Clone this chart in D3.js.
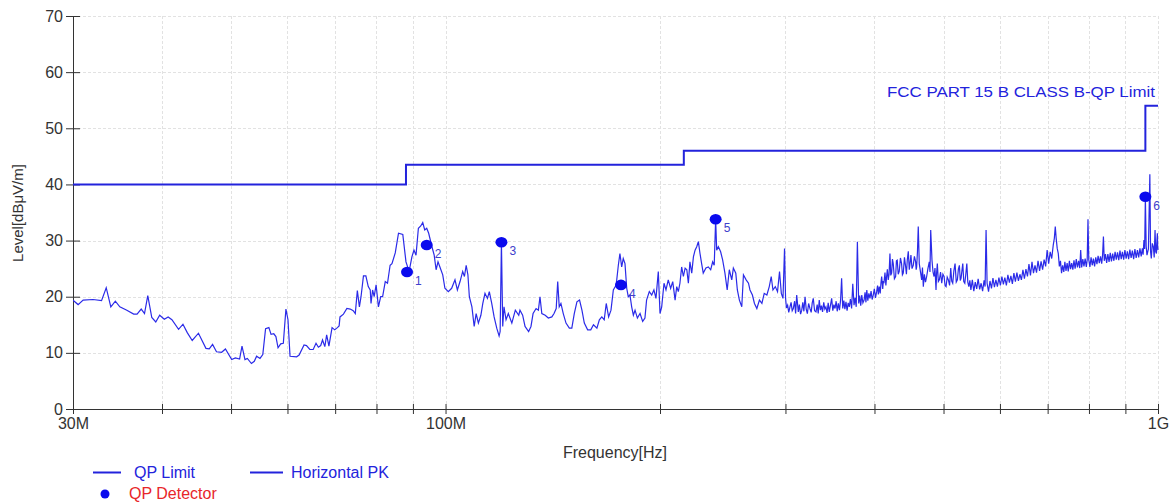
<!DOCTYPE html>
<html><head><meta charset="utf-8">
<script src="https://cdn.jsdelivr.net/npm/d3@7"></script>
<style>
html,body{margin:0;padding:0;background:#fff;}
svg{display:block;font-family:"Liberation Sans",Arial,sans-serif;}
</style></head>
<body><svg id="c" width="1176" height="504"></svg>
<script>
// ---------- data ----------
const yTicks = [0,10,20,30,40,50,60,70];
const xTicks = [30,40,50,60,70,80,90,100,200,300,400,500,600,700,800,900,1000];
const xTickLabels = {30:"30M",100:"100M",1000:"1G"};

// QP limit: [start MHz, end MHz, level dBµV/m]
const limitSteps = [[30,88,40],[88,216,43.5],[216,960,46],[960,1000,54]];
const limitLabel = "FCC PART 15 B CLASS B-QP Limit";

// QP detector points
const qpFreq  = [88.3, 94.1, 119.8, 176.3, 239.4, 960.0];
const qpLevel = [24.4, 29.2, 29.7, 22.1, 33.8, 37.8];
const qpLabel = ["1","2","3","4","5","6"];

// Horizontal PK trace: [MHz, dBµV/m]
const pkTrace = [
[30.0,19.4],[30.5,18.6],[31.0,19.4],[32.0,19.5],[32.9,19.3],[33.4,21.6],[33.9,18.2],[34.4,19.2],[34.9,18.2],[35.7,17.6],
[36.5,16.9],[36.9,16.9],[37.4,17.8],[37.8,17.0],[38.2,20.2],[38.7,16.3],[39.2,15.5],[39.7,16.7],[40.3,16.0],[40.8,16.4],
[41.3,15.9],[42.2,14.2],[42.8,15.1],[43.4,13.6],[44.1,12.2],[45.0,13.5],[46.1,10.8],[46.6,10.7],[47.1,11.5],[47.7,10.2],
[48.5,10.1],[49.1,10.7],[50.1,8.8],[50.7,9.1],[51.4,8.9],[51.8,11.2],[52.3,8.8],[52.7,9.0],[53.4,8.1],[53.9,8.5],
[54.3,9.4],[54.9,9.0],[55.4,9.7],[55.9,14.3],[56.5,14.5],[56.9,13.3],[57.4,13.4],[57.8,12.9],[58.2,10.9],[58.7,11.6],
[59.2,11.7],[59.7,17.8],[60.1,15.9],[60.5,9.4],[61.8,9.3],[62.3,9.6],[63.3,11.4],[63.8,11.3],[64.5,10.6],[65.2,10.6],
[65.8,11.7],[66.3,11.0],[66.8,11.3],[67.2,12.3],[67.7,11.1],[68.1,13.2],[68.6,11.2],[69.3,14.5],[69.9,14.1],[70.5,14.5],
[70.9,14.8],[71.1,16.4],[71.9,16.9],[72.7,17.9],[73.5,17.8],[74.2,17.5],[74.7,17.0],[75.2,21.1],[75.7,18.2],[76.1,20.0],
[76.7,23.7],[77.3,23.7],[77.9,21.8],[78.4,21.2],[78.6,18.8],[79.0,21.2],[79.4,20.0],[79.9,22.1],[80.5,18.2],[81.1,20.0],
[81.6,20.0],[82.3,22.7],[82.9,22.4],[83.6,25.6],[84.1,25.9],[85.0,27.8],[85.9,31.3],[87.1,31.1],[88.0,26.2],[88.9,24.5],
[89.7,27.1],[90.3,28.3],[90.9,27.4],[91.6,32.2],[92.3,32.6],[92.9,33.2],[93.5,31.9],[94.1,32.2],[94.7,31.3],[95.7,28.9],
[96.4,27.4],[97.0,24.8],[97.6,26.2],[98.2,25.3],[99.1,23.9],[99.8,21.5],[100.9,20.9],[102.0,21.5],[103.1,23.0],[103.9,21.2],
[104.8,22.7],[105.7,24.5],[106.3,23.6],[106.9,25.6],[107.5,23.9],[108.0,20.0],[108.9,18.2],[109.7,14.7],[110.4,17.0],[111.2,15.3],
[112.1,16.7],[112.8,18.8],[113.6,20.6],[114.5,19.7],[115.2,20.9],[116.1,18.8],[117.0,16.4],[118.0,14.4],[118.9,13.0],[119.3,13.8],
[119.8,29.7],[120.3,14.7],[120.8,18.2],[121.6,15.9],[122.5,17.0],[123.9,15.3],[125.3,17.6],[126.7,16.7],[127.2,17.6],[128.3,16.7],
[129.3,14.7],[130.8,13.8],[131.8,14.7],[132.7,17.0],[134.0,17.9],[135.0,17.6],[135.7,20.0],[136.5,17.0],[138.0,16.7],[139.4,16.2],
[141.0,16.4],[142.0,17.0],[143.0,17.9],[143.7,22.7],[144.4,18.2],[145.2,18.8],[146.3,17.0],[147.6,15.3],[149.2,14.4],[150.4,14.4],
[151.6,17.0],[152.9,19.1],[154.2,19.4],[155.4,17.6],[156.6,15.3],[158.3,14.1],[159.9,14.1],[161.3,15.0],[163.1,14.4],[164.4,15.9],
[165.7,16.4],[167.0,15.9],[168.1,18.8],[169.4,16.4],[170.7,17.6],[172.0,21.2],[173.6,22.1],[174.8,25.6],[175.7,27.7],[176.7,25.3],
[177.6,26.8],[178.6,25.9],[179.6,21.5],[180.5,20.0],[181.5,20.3],[182.5,18.2],[183.5,16.7],[184.5,17.6],[185.9,16.2],[187.5,17.0],
[189.1,15.6],[190.5,16.2],[191.5,19.4],[193.2,20.9],[194.7,20.3],[196.1,21.2],[197.4,19.7],[198.9,24.5],[200.0,17.0],[201.1,18.2],
[202.6,22.4],[203.9,21.2],[205.4,23.0],[207.0,21.5],[208.4,22.7],[210.0,19.4],[211.1,21.8],[212.2,20.9],[213.3,22.4],[214.5,25.3],
[215.7,23.6],[216.9,25.1],[218.1,24.8],[219.2,22.4],[220.3,26.2],[221.6,24.2],[222.8,27.1],[224.0,28.3],[225.2,28.9],[226.4,29.8],
[227.6,27.7],[228.8,25.9],[230.0,24.2],[232.0,25.1],[233.8,25.3],[235.6,24.8],[237.1,26.2],[238.3,25.6],[239.4,33.8],[240.2,28.3],
[241.5,28.9],[243.3,28.0],[244.9,26.5],[246.7,24.2],[248.5,21.2],[250.2,24.8],[252.2,23.0],[253.5,25.1],[255.5,24.2],[256.8,21.2],
[258.5,19.4],[260.5,18.2],[261.9,23.9],[264.2,23.0],[266.2,22.4],[267.5,21.2],[269.6,20.3],[271.4,18.8],[273.5,17.9],[275.8,19.4],
[278.0,18.8],[280.1,20.6],[282.5,20.3],[284.7,21.8],[286.5,23.6],[288.1,21.2],[290.3,21.8],[292.4,20.9],[294.3,24.5],[296.0,20.6],
[297.6,19.7],[299.1,28.6],[300.1,19.7],[301.0,18.0],[302.1,18.5],[303.2,17.2],[304.4,18.2],[305.5,19.0],[306.6,17.5],[307.7,17.9],
[309.0,19.2],[310.0,17.0],[311.1,20.3],[312.7,17.3],[313.8,18.6],[315.0,16.9],[316.2,17.6],[317.3,19.0],[318.4,17.4],[319.6,20.0],
[320.8,17.8],[322.0,17.0],[323.3,18.8],[324.7,17.9],[326.0,17.2],[327.1,18.9],[328.2,19.7],[329.6,17.5],[331.1,17.3],[332.4,18.6],
[333.5,17.0],[334.6,19.4],[335.9,17.6],[337.0,18.4],[338.2,17.3],[339.5,19.0],[340.7,17.8],[341.9,18.2],[343.2,17.1],[344.4,18.9],
[345.6,17.3],[347.0,18.5],[348.3,19.7],[349.6,17.5],[350.8,18.6],[352.1,17.9],[353.4,19.2],[354.6,17.4],[355.9,18.8],[357.2,17.6],
[358.5,19.4],[359.7,23.3],[361.0,17.9],[362.3,19.3],[363.5,17.8],[364.8,19.1],[366.1,17.5],[367.4,18.9],[368.7,18.2],[370.1,19.6],
[371.5,17.9],[372.9,22.3],[374.4,18.5],[375.7,19.8],[377.1,18.2],[378.5,29.8],[380.1,18.8],[381.3,20.2],[382.6,18.4],[383.9,20.3],
[385.3,18.9],[386.8,19.4],[388.0,20.8],[389.1,19.0],[390.2,21.2],[391.5,19.3],[392.8,20.6],[394.2,19.7],[395.6,21.0],[397.0,19.5],
[398.4,20.3],[399.8,21.4],[401.3,19.8],[402.8,20.9],[404.0,22.0],[405.0,20.4],[406.2,21.8],[407.5,20.6],[408.5,22.5],[409.4,23.6],
[410.8,21.4],[411.6,22.8],[412.4,22.4],[413.8,24.3],[415.0,22.0],[416.0,23.6],[417.0,24.9],[418.2,23.0],[419.3,24.0],[420.5,27.7],
[421.6,23.8],[422.8,24.2],[423.9,26.7],[425.0,25.9],[426.6,23.2],[428.3,23.6],[429.4,26.4],[430.5,26.5],[431.9,24.0],[433.3,24.5],
[435.0,26.9],[436.6,25.9],[437.8,23.9],[439.0,24.2],[440.7,27.0],[442.4,25.3],[443.5,24.0],[444.7,26.5],[446.2,28.1],[447.6,24.8],
[448.8,26.0],[450.0,27.4],[451.6,25.0],[453.4,25.6],[455.1,27.2],[456.9,26.2],[457.7,24.8],[458.4,25.3],[459.6,28.0],[460.8,32.5],
[462.3,25.9],[464.0,24.5],[465.9,23.0],[467.1,25.2],[468.4,21.8],[470.0,24.0],[471.7,22.6],[473.5,23.6],[475.4,25.0],[477.5,26.2],
[478.6,24.4],[479.7,31.9],[481.7,26.5],[483.3,24.4],[484.9,23.6],[486.4,25.1],[488.0,21.2],[489.0,24.3],[490.1,25.9],[491.7,22.7],
[493.3,23.0],[495.2,24.4],[497.1,22.4],[499.0,24.0],[500.9,23.6],[502.5,22.0],[504.1,21.8],[506.0,23.5],[507.9,23.0],[509.9,22.0],
[511.8,25.1],[513.4,22.8],[515.1,22.4],[517.0,24.6],[519.0,25.9],[521.0,22.6],[522.9,23.0],[524.6,24.9],[526.3,25.6],[527.8,22.9],
[529.2,23.3],[530.6,24.6],[532.1,25.9],[533.8,22.7],[535.6,22.4],[537.3,24.0],[539.1,25.9],[540.8,22.6],[542.6,21.8],[544.4,22.9],
[546.2,21.2],[548.8,23.0],[551.4,21.0],[554.0,22.6],[556.6,21.4],[559.2,23.2],[561.9,21.3],[564.6,22.4],[567.3,21.0],[570.0,22.9],
[571.9,21.8],[573.7,31.9],[575.6,22.4],[578.3,20.9],[581.0,22.8],[583.8,21.5],[586.6,23.3],[589.4,21.7],[592.2,23.0],[595.1,21.8],
[598.0,23.4],[600.9,22.0],[603.8,23.6],[606.7,22.2],[609.6,23.4],[612.6,22.0],[615.6,23.9],[618.6,22.5],[621.6,23.7],[624.6,22.3],
[627.7,24.2],[630.7,22.7],[633.8,24.3],[636.9,22.8],[640.0,24.0],[643.1,23.0],[646.3,24.8],[649.4,23.2],[652.6,24.9],[655.8,23.6],
[659.0,25.8],[662.2,23.8],[665.5,26.2],[668.7,24.2],[672.0,25.6],[675.3,24.3],[678.6,26.4],[682.0,24.6],[685.3,26.3],[688.7,24.8],
[692.1,26.6],[695.5,25.4],[698.9,28.3],[702.3,25.9],[705.8,28.0],[709.3,26.8],[712.8,29.2],[715.3,30.4],[717.5,32.5],[719.6,30.4],
[722.0,28.6],[724.5,27.7],[727.0,25.4],[729.6,26.4],[732.2,24.2],[734.8,25.6],[737.5,24.4],[740.1,26.2],[742.8,24.6],[745.5,26.0],
[748.2,24.5],[751.0,26.4],[753.8,24.9],[756.6,26.0],[759.4,24.8],[762.2,26.5],[765.0,25.0],[767.9,26.7],[770.8,25.2],[773.7,26.4],
[776.6,25.1],[778.9,28.3],[781.4,25.2],[784.3,26.7],[787.2,25.4],[790.2,26.8],[793.2,25.3],[795.5,26.6],[797.5,33.8],[799.5,26.6],
[802.5,25.3],[805.5,27.0],[808.5,25.6],[811.6,26.8],[814.7,25.4],[817.8,27.0],[820.9,25.8],[824.0,27.3],[827.2,26.0],[830.4,27.2],
[833.6,25.9],[836.0,27.4],[838.3,30.7],[840.6,26.4],[843.8,27.6],[847.1,26.0],[850.4,27.6],[853.7,26.2],[857.0,27.8],[860.3,26.3],
[863.7,27.7],[867.1,26.4],[870.5,28.0],[873.9,26.6],[877.4,27.9],[880.9,26.5],[884.4,28.2],[887.9,26.7],[891.4,28.0],[895.0,26.6],
[898.6,28.3],[902.2,26.8],[905.8,28.1],[909.5,26.7],[913.1,28.4],[916.8,26.9],[920.5,28.2],[924.3,26.7],[928.1,28.5],[931.9,26.9],
[935.7,28.3],[939.5,27.0],[943.3,28.6],[947.1,27.2],[950.7,28.6],[953.0,27.5],[955.6,30.1],[957.8,28.5],[960.0,37.8],[962.5,29.0],
[965.0,27.4],[969.5,28.5],[974.0,41.8],[976.3,28.0],[978.6,26.8],[981.8,29.5],[985.1,28.9],[987.8,27.0],[990.5,31.9],[992.7,28.0],
[995.0,27.7],[996.5,30.0],[998.0,31.3],[999.0,29.0],[1000,28.3]
];

// ---------- drawing ----------
const svg = d3.select("#c");
const L = 73, R = 1158, T = 16, B = 409;
const x = d3.scaleLog().domain([30,1000]).range([L,R]);
const y = d3.scaleLinear().domain([0,70]).range([B,T]);
const BLUE = "#2323dc";

// grid
const grid = svg.append("g").attr("stroke","#e2e2e2").attr("stroke-dasharray","3,2").attr("stroke-width",1);
grid.selectAll("line.gh").data(yTicks.filter(d=>d>0)).join("line").attr("class","gh")
  .attr("x1",L).attr("x2",R).attr("y1",d=>Math.round(y(d))+0.5).attr("y2",d=>Math.round(y(d))+0.5);
grid.selectAll("line.gv").data(xTicks.filter(d=>d>30)).join("line").attr("class","gv")
  .attr("y1",T).attr("y2",B).attr("x1",d=>Math.round(x(d))+0.5).attr("x2",d=>Math.round(x(d))+0.5);

// axes
const yAxis = svg.append("g").attr("transform",`translate(${L},0)`)
  .call(d3.axisLeft(y).tickValues(yTicks).tickSize(7).tickPadding(3));
yAxis.selectAll(".tick line").attr("x2",7).attr("x1",-7).attr("stroke","#333");
yAxis.selectAll("text").attr("font-size",16).attr("fill","#333").attr("font-family","Liberation Sans, Arial, sans-serif");
yAxis.select(".domain").attr("stroke","#333").attr("d",`M0.5,${T}V${B}`);

const xAxis = svg.append("g").attr("transform",`translate(0,${B})`)
  .call(d3.axisBottom(x).tickValues(xTicks).tickFormat(d=>xTickLabels[d]||"").tickSize(5).tickPadding(4));
xAxis.selectAll(".tick line").attr("y1",-5).attr("y2",5).attr("stroke","#333");
xAxis.selectAll("text").attr("font-size",16).attr("fill","#333").attr("font-family","Liberation Sans, Arial, sans-serif");
xAxis.select(".domain").attr("stroke","#333").attr("d",`M${L},0.5H${R}`);

// axis titles
svg.append("text").attr("x",615).attr("y",458).attr("text-anchor","middle")
  .attr("font-size",16).attr("fill","#333").text("Frequency[Hz]");
svg.append("text").attr("transform","translate(23,213) rotate(-90)").attr("text-anchor","middle")
  .attr("font-size",15).attr("fill","#333").text("Level[dBμV/m]");

// clip
svg.append("clipPath").attr("id","clip").append("rect").attr("x",L).attr("y",T-10).attr("width",R-L+1).attr("height",B-T+10);

// PK trace
const line = d3.line().x(d=>x(d[0])).y(d=>y(d[1]));
svg.append("path").datum(pkTrace).attr("d",line).attr("fill","none")
  .attr("stroke","#2b2be8").attr("stroke-width",1.2).attr("clip-path","url(#clip)");

// limit line (step)
const limPts = [];
limitSteps.forEach(s=>{limPts.push([s[0],s[2]]);limPts.push([s[1],s[2]]);});
svg.append("path").datum(limPts).attr("d",d3.line().x(d=>x(d[0])).y(d=>y(d[1])))
  .attr("fill","none").attr("stroke",BLUE).attr("stroke-width",2);
svg.append("text").attr("x",1155).attr("y",97).attr("text-anchor","end")
  .attr("font-size",15.5).attr("fill",BLUE).attr("textLength",268).attr("lengthAdjust","spacingAndGlyphs").text(limitLabel);

// QP markers
const qp = qpFreq.map((f,i)=>({f,v:qpLevel[i],l:qpLabel[i]}));
svg.selectAll("ellipse.qp").data(qp).join("ellipse").attr("class","qp")
  .attr("cx",d=>x(d.f)).attr("cy",d=>y(d.v)).attr("rx",6).attr("ry",5.3).attr("fill","#0a0aee");
svg.selectAll("text.qpl").data(qp).join("text").attr("class","qpl")
  .attr("x",d=>x(d.f)+8).attr("y",d=>y(d.v)+13).attr("font-size",12).attr("fill","#4040cc").text(d=>d.l);

// legend
const lg = svg.append("g").attr("font-size",16);
lg.append("line").attr("x1",93).attr("x2",121).attr("y1",472.5).attr("y2",472.5).attr("stroke",BLUE).attr("stroke-width",2);
lg.append("text").attr("x",134).attr("y",478).attr("fill",BLUE).text("QP Limit");
lg.append("line").attr("x1",250).attr("x2",283).attr("y1",472.5).attr("y2",472.5).attr("stroke",BLUE).attr("stroke-width",2);
lg.append("text").attr("x",291).attr("y",478).attr("fill",BLUE).text("Horizontal PK");
lg.append("circle").attr("cx",105).attr("cy",494).attr("r",4.5).attr("fill","#0a0aee");
lg.append("text").attr("x",129).attr("y",499).attr("fill","#e8262a").text("QP Detector");
</script></body></html>
